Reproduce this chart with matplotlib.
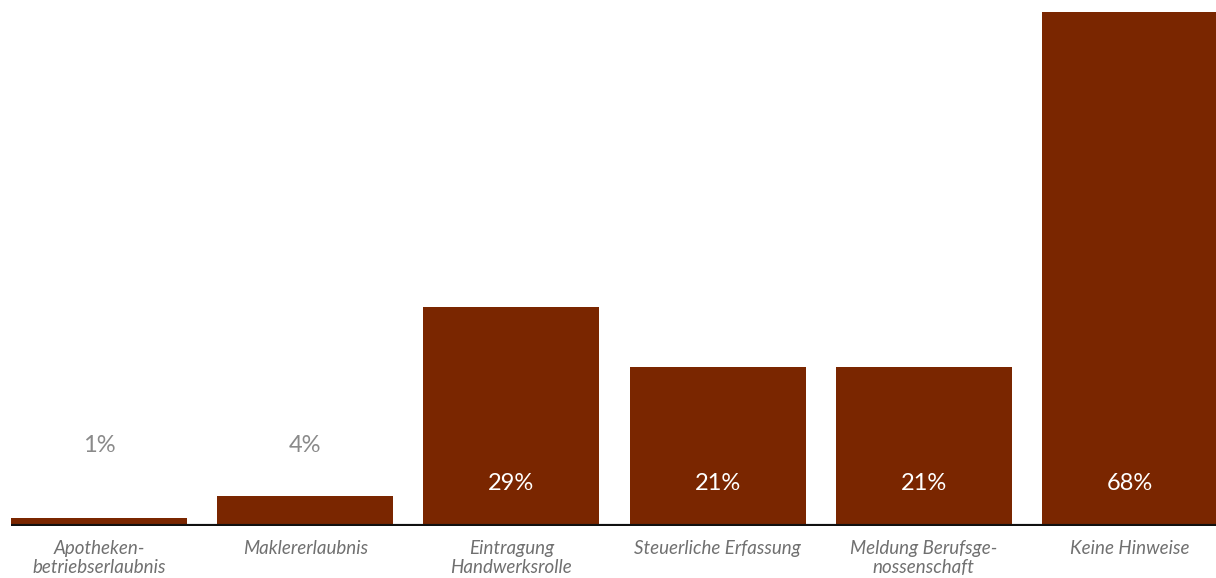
import matplotlib.pyplot as plt
import numpy as np

categories = ['Apotheken-\nbetriebserlaubnis', 'Maklererlaubnis', 'Eintragung\nHandwerksrolle',
              'Steuerliche Erfassung', 'Meldung Berufsge-\nnossenschaft', 'Keine Hinweise']
values = [1, 4, 29, 21, 21, 68]
labels = ['1%', '4%', '29%', '21%', '21%', '68%']

bar_color = '#7a2600'
grey = '#707070'
width = 0.853

plt.rcParams['font.family'] = ['Lato', 'DejaVu Sans']

fig = plt.figure(figsize=(12.16, 5.78), dpi=100)
# right edge of the last bar runs slightly past the image border
ax = fig.add_axes([11 / 1216, 1 - 526 / 578, 1207 / 1216, 514 / 578])

x = np.arange(len(values))
ax.bar(x, values, width=width, color=bar_color, zorder=2)

for xi, v, lab in zip(x, values, labels):
    if v < 8:
        ax.text(xi, 10.6, lab, ha='center', va='center', fontsize=17, color='#8a8a8a')
    else:
        ax.text(xi, 5.6, lab, ha='center', va='center', fontsize=17, color='white', zorder=3)

ax.axhline(0, color='#111111', linewidth=3, zorder=4)

ax.set_xlim(-width / 2, len(values) - 1 + width / 2)
ax.set_ylim(0, 68)
ax.set_xticks(x)
ax.set_xticklabels(categories, fontsize=13.5, style='italic', color=grey, linespacing=1.15)
ax.tick_params(axis='x', length=0, pad=10)
ax.set_yticks([])
for s in ax.spines.values():
    s.set_visible(False)

fig.savefig('out.png', dpi=100)
